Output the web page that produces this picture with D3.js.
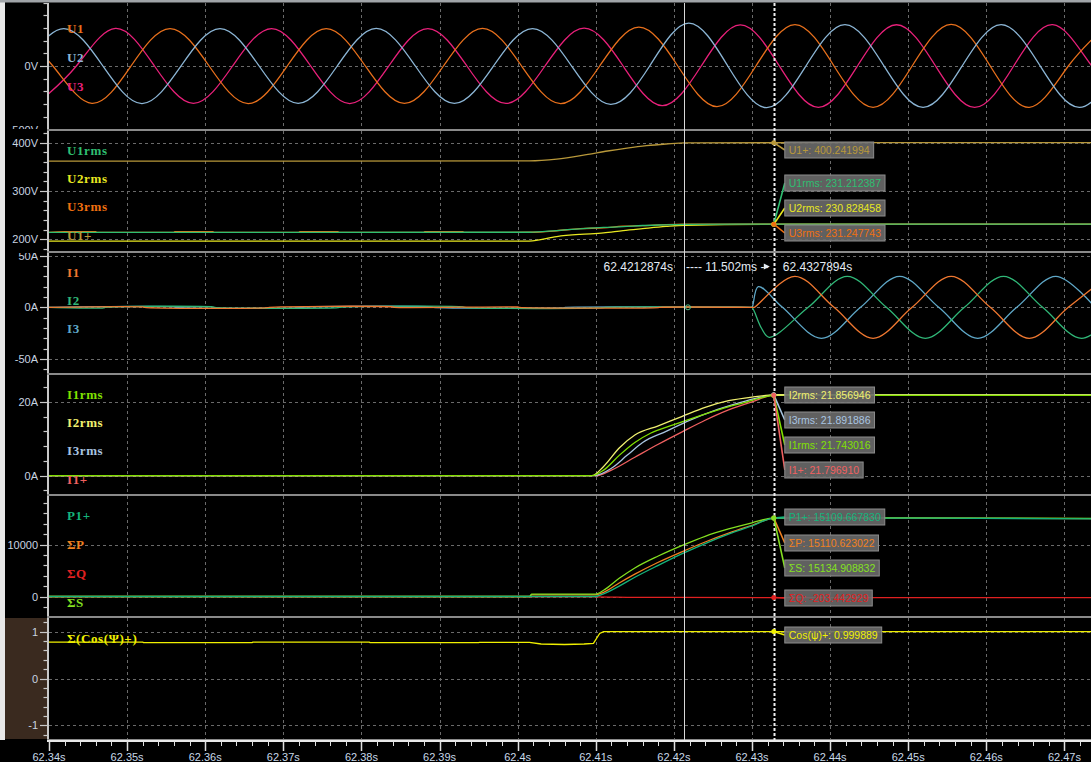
<!DOCTYPE html>
<html><head><meta charset="utf-8">
<script src="https://cdn.jsdelivr.net/npm/d3@7"></script>
<style>html,body{margin:0;padding:0;background:#000;overflow:hidden}</style>
</head><body><svg id="c" width="1091" height="762"></svg>
<script>
// ---------------- DATA ----------------
const timeTicks = [62.34,62.35,62.36,62.37,62.38,62.39,62.40,62.41,62.42,62.43,62.44,62.45,62.46,62.47];
const cursorTimes = [62.4212874, 62.4327894];
const deltaLabel = "11.502ms";

// phase voltages (V): extrema / zero crossings
const u1 = [[62.3355,296],[62.3405,0],[62.3455,-294],[62.3505,0],[62.3555,295],[62.3605,0],[62.3655,-296],[62.3705,0],[62.3755,294],[62.3805,0],[62.3855,-295],[62.3905,0],[62.3955,296],[62.4005,0],[62.4055,-297],[62.4105,0],[62.4155,306],[62.4205,0],[62.4255,-320],[62.4305,0],[62.4355,326],[62.4405,0],[62.4455,-325],[62.4505,0],[62.4555,327],[62.4605,0],[62.4655,-325],[62.4705,0],[62.4755,326]];
const u2 = [[62.3369,0],[62.3419,295],[62.3469,0],[62.3519,-296],[62.3569,0],[62.3619,295],[62.3669,0],[62.3719,-294],[62.3769,0],[62.3819,296],[62.3869,0],[62.3919,-295],[62.3969,0],[62.4019,295],[62.4069,0],[62.4119,-302],[62.4169,0],[62.4219,338],[62.4269,0],[62.4319,-328],[62.4369,0],[62.4419,325],[62.4469,0],[62.4519,-326],[62.4569,0],[62.4619,325],[62.4669,0],[62.4719,-326],[62.4769,0]];
const u3 = [[62.3385,-295],[62.3435,0],[62.3485,296],[62.3535,0],[62.3585,-294],[62.3635,0],[62.3685,295],[62.3735,0],[62.3785,-296],[62.3835,0],[62.3885,295],[62.3935,0],[62.3985,-295],[62.4035,0],[62.4085,298],[62.4135,0],[62.4185,-312],[62.4235,0],[62.4285,324],[62.4335,0],[62.4385,-326],[62.4435,0],[62.4485,325],[62.4535,0],[62.4585,-326],[62.4635,0],[62.4685,325],[62.4735,0],[62.4785,-325]];

// rms voltages (V)
const u1plus = [[62.34,362],[62.4015,362.4],[62.405,366],[62.409,376],[62.4115,383],[62.4140,389],[62.4165,394],[62.419,397.5],[62.4214,400],[62.4734,400.24]];
const u1rms = [[62.34,214.3],[62.4015,214.4],[62.405,218],[62.408,221.5],[62.411,224.5],[62.4135,226],[62.416,228.4],[62.419,229.8],[62.4214,230.8],[62.4329,231.21],[62.4734,231.2]];
const u2rms = [[62.34,196],[62.4015,196.2],[62.405,205.5],[62.408,210],[62.411,213],[62.4135,218],[62.416,222],[62.419,226.5],[62.4214,229],[62.4329,230.83],[62.4734,230.8]];
const u3rms = [[62.34,214.3],[62.342,215.6],[62.346,215.6],[62.3461,214.3],[62.356,214.3],[62.3561,215.6],[62.361,215.6],[62.3611,214.3],[62.372,214.3],[62.3721,215.6],[62.377,215.6],[62.3771,214.3],[62.388,214.3],[62.3881,215.6],[62.393,215.6],[62.3931,214.3],[62.4015,214.4],[62.405,217.5],[62.408,222],[62.411,223.5],[62.4135,227],[62.416,228],[62.419,230.3],[62.4214,231],[62.4329,231.25],[62.4734,231.2]];

// phase currents (A): near zero before switch-on, then extrema / zero crossings
const i1 = [[62.34,0],[62.352,0.4],[62.3522,0],[62.368,-0.4],[62.3682,0],[62.384,0.4],[62.3842,0],[62.40,0.3],[62.4002,0],[62.418,-0.3],[62.4182,0],[62.4301,0],[62.4303,0],[62.4355,30],[62.4405,0],[62.4455,-30],[62.4505,0],[62.4555,30],[62.4605,0],[62.4655,-30],[62.4705,0],[62.4755,30]];
const i2 = [[62.34,0],[62.347,-0.5],[62.3472,0],[62.361,0.4],[62.3612,0],[62.377,-0.4],[62.3772,0],[62.393,0.5],[62.3932,0],[62.411,-0.4],[62.4112,0],[62.4298,0],[62.4300,0],[62.4312,-20],[62.4322,-29],[62.4372,0],[62.4422,30],[62.4472,0],[62.4522,-30],[62.4572,0],[62.4622,30],[62.4672,0],[62.4722,-30],[62.4772,0]];
const i3 = [[62.34,0],[62.356,0.4],[62.3562,0],[62.372,-0.4],[62.3722,0],[62.389,0.4],[62.3892,0],[62.406,-0.3],[62.4062,0],[62.4298,0],[62.4300,0],[62.4308,20],[62.4339,0],[62.4389,-30],[62.4439,0],[62.4489,30],[62.4539,0],[62.4589,-30],[62.4639,0],[62.4689,30],[62.4739,0]];

// rms currents (A)
const i1rms = [[62.34,0],[62.4095,0],[62.411,1.5],[62.413,5.5],[62.415,9],[62.417,11.5],[62.420,13.8],[62.423,16],[62.426,18],[62.429,19.8],[62.431,21],[62.4329,21.74],[62.4734,21.75]];
const i2rms = [[62.34,0],[62.4095,0],[62.411,2.5],[62.413,7.5],[62.415,11],[62.418,13.5],[62.421,16],[62.424,18.5],[62.427,20.3],[62.430,21.3],[62.4329,21.86],[62.4734,21.86]];
const i3rms = [[62.34,0],[62.4098,0],[62.412,2],[62.414,5.5],[62.416,9],[62.419,12],[62.422,15],[62.425,17.5],[62.428,19.5],[62.431,21.2],[62.4329,21.89],[62.4734,21.89]];
const i1plus = [[62.34,0],[62.4100,0],[62.412,1.5],[62.415,5],[62.418,8.5],[62.421,11.8],[62.424,15],[62.427,17.8],[62.430,20],[62.4329,21.8],[62.4734,21.8]];

// powers (W / var / VA)
const p1plus = [[62.34,0],[62.4099,0],[62.411,500],[62.413,2000],[62.415,3700],[62.418,6000],[62.421,8200],[62.424,10200],[62.427,12000],[62.430,13600],[62.4329,15110],[62.45,15100],[62.4734,14950]];
const sumP = [[62.34,0],[62.4015,0],[62.4018,300],[62.4099,300],[62.411,800],[62.413,2600],[62.415,4300],[62.418,6600],[62.421,8600],[62.424,10500],[62.427,12200],[62.430,13700],[62.4329,15110],[62.45,15100],[62.4734,15000]];
const sumQ = [[62.34,-60],[62.36,-40],[62.38,-60],[62.40,-50],[62.41,-60],[62.415,-150],[62.4329,-203],[62.45,-210],[62.4734,-200]];
const sumS = [[62.34,0],[62.4015,0],[62.4018,450],[62.4099,450],[62.411,1200],[62.413,3500],[62.415,5500],[62.418,7800],[62.421,9800],[62.424,11600],[62.427,13000],[62.430,14200],[62.4329,15135],[62.45,15130],[62.4734,15050]];

// power factor
const cosPhi = [[62.34,0.775],[62.352,0.775],[62.3521,0.765],[62.366,0.765],[62.3661,0.775],[62.381,0.775],[62.3811,0.765],[62.395,0.765],[62.3951,0.77],[62.4015,0.77],[62.403,0.735],[62.406,0.725],[62.4085,0.735],[62.4097,0.75],[62.4105,0.96],[62.411,1.0],[62.4734,0.9999]];

// cursor readouts
const readU = [["U1+",400.241994],["U1rms",231.212387],["U2rms",230.828458],["U3rms",231.247743]];
const readI = [["I2rms",21.856946],["I3rms",21.891886],["I1rms",21.743016],["I1+",21.796910]];
const readP = [["P1+",15109.667830],["ΣP",15110.623022],["ΣS",15134.908832],["ΣQ",-203.442929]];
const readC = [["Cos(ψ)+",0.999889]];

// ---------------- DRAW ----------------
const W=1091,H=762;
const svg=d3.select("#c");
const x=d3.scaleLinear().domain([62.34,62.4734]).range([49,1091]);
svg.append("rect").attr("width",W).attr("height",H).attr("fill","#000");
svg.append("rect").attr("x",0).attr("y",0).attr("width",5).attr("height",740).attr("fill","#e8e8e8");
svg.append("rect").attr("x",0).attr("y",0).attr("width",W).attr("height",2.5).attr("fill","#a0a4a8");
svg.append("rect").attr("x",5).attr("y",618).attr("width",43).attr("height",121).attr("fill","#3a2a1f");

const C = {u1:"#e8701c",u2:"#8cb6d6",u3:"#e8207a",u1p:"#b8983a",u1r:"#2fbf71",u2r:"#e8e820",u3r:"#f07010",
  i1:"#f07830",i2:"#30b878",i3:"#5fa8c8",i1r:"#80e000",i2r:"#f0f070",i3r:"#a8c4e0",i1p:"#f06060",
  p1:"#14b47c",sp:"#f08020",sq:"#e02020",ss:"#84e020",cos:"#f0f000"};

const panels=[
 {top:3,bot:129,dom:[-500,500],step:100,lab:[-500,0],fmt:d=>d+"V",
  series:[[u3,C.u3],[u1,C.u1],[u2,C.u2]],curve:d3.curveNatural,
  legend:[["U1",C.u1,33],["U2",C.u2,62],["U3",C.u3,91]]},
 {top:131,bot:251,dom:[174.5,425.5],step:20,lab:[200,300,400],fmt:d=>d+"V",
  series:[[u1plus,C.u1p],[u2rms,C.u2r],[u3rms,C.u3r],[u1rms,C.u1r]],curve:d3.curveMonotoneX,
  legend:[["U1rms",C.u1r,155],["U2rms",C.u2r,183],["U3rms",C.u3r,211],["U1+",C.u1p,240]]},
 {top:253,bot:373,dom:[-64,53],step:10,lab:[-50,0,50],fmt:d=>d+"A",
  series:[[i3,C.i3],[i2,C.i2],[i1,C.i1]],curve:d3.curveCatmullRom,
  legend:[["I1",C.i1,277],["I2",C.i2,305],["I3",C.i3,333]]},
 {top:375,bot:494,dom:[-5.1,27.4],step:4,lab:[0,20],fmt:d=>d+"A",
  series:[[i1plus,C.i1p],[i3rms,C.i3r],[i2rms,C.i2r],[i1rms,C.i1r]],curve:d3.curveMonotoneX,
  legend:[["I1rms",C.i1r,399],["I2rms",C.i2r,427],["I3rms",C.i3r,455],["I1+",C.i1p,484]]},
 {top:496,bot:616,dom:[-3850,19450],step:2000,lab:[0,10000],fmt:d=>""+d,
  series:[[sumQ,C.sq],[sumP,C.sp],[sumS,C.ss],[p1plus,C.p1]],curve:d3.curveMonotoneX,
  legend:[["P1+",C.p1,520],["ΣP",C.sp,549],["ΣQ",C.sq,578],["ΣS",C.ss,607]]},
 {top:618,bot:739,dom:[-1.3,1.3],step:0.2,lab:[-1,0,1],fmt:d=>""+d,
  series:[[cosPhi,C.cos]],curve:d3.curveLinear,
  legend:[["Σ(Cos(Ψ)+)",C.cos,643]]}
];

const defs=svg.append("defs");
panels.forEach((p,pi)=>{
  const y=d3.scaleLinear().domain(p.dom).range([p.bot+0.5,p.top-0.5]);
  p.y=y;
  defs.append("clipPath").attr("id","cp"+pi).append("rect").attr("x",0).attr("y",p.top).attr("width",W).attr("height",p.bot-p.top);
  defs.append("clipPath").attr("id","cq"+pi).append("rect").attr("x",49).attr("y",p.top).attr("width",W-49).attr("height",p.bot-p.top);
  const g=svg.append("g").attr("clip-path",`url(#cp${pi})`);
  g.selectAll(".vg").data(timeTicks.slice(1)).join("line")
    .attr("x1",d=>Math.round(x(d))+0.5).attr("x2",d=>Math.round(x(d))+0.5).attr("y1",p.top).attr("y2",p.bot)
    .attr("stroke","#6a6a6a").attr("stroke-dasharray","3,3");
  g.selectAll(".hg").data(p.lab).join("line")
    .attr("x1",49).attr("x2",W).attr("y1",d=>Math.round(y(d))+0.5).attr("y2",d=>Math.round(y(d))+0.5)
    .attr("stroke","#6a6a6a").attr("stroke-dasharray","3,3");
  const n0=Math.ceil(p.dom[0]/p.step-1e-9), n1=Math.floor(p.dom[1]/p.step+1e-9);
  const tv=d3.range(n0,n1+1).map(k=>+(k*p.step).toFixed(6));
  g.selectAll(".tk").data(tv).join("line")
    .attr("x1",d=>p.lab.includes(d)?40:43.5).attr("x2",48).attr("y1",d=>Math.round(y(d))+0.5).attr("y2",d=>Math.round(y(d))+0.5)
    .attr("stroke","#c8c8c8").attr("stroke-width",1.2);
  g.selectAll(".tl").data(p.lab).join("text")
    .attr("x",38).attr("y",d=>y(d)+4).attr("text-anchor","end")
    .attr("font-family","Liberation Sans, Arial, sans-serif").attr("font-size",11)
    .attr("fill","#c8d4e0").text(p.fmt);
  g.append("line").attr("x1",48).attr("x2",48).attr("y1",p.top).attr("y2",p.bot).attr("stroke","#c8c8c8").attr("stroke-width",2);
  const gl=svg.append("g").attr("clip-path",`url(#cq${pi})`);
  p.series.forEach(([pts,col])=>{
    gl.append("path").datum(pts).attr("fill","none").attr("stroke",col).attr("stroke-width",1.3)
      .attr("d",d3.line().x(d=>x(d[0])).y(d=>y(d[1])).curve(p.curve));
  });
  gl.selectAll(".lg").data(p.legend).join("text")
    .attr("x",67).attr("y",d=>d[2]).attr("fill",d=>d[1])
    .attr("font-family","Liberation Serif, serif").attr("font-weight","bold").attr("font-size",13)
    .attr("letter-spacing",0.6).text(d=>d[0]);
  svg.append("rect").attr("x",47).attr("y",p.bot).attr("width",W-47).attr("height",2).attr("fill","#8a8a8a");
});

// cursors
const cx0=x(cursorTimes[0]), cx1=x(cursorTimes[1]);
svg.append("line").attr("x1",Math.round(cx0)+0.5).attr("x2",Math.round(cx0)+0.5).attr("y1",3).attr("y2",741).attr("stroke","#d8d8d8").attr("stroke-width",1);
svg.append("line").attr("x1",Math.round(cx1)+0.5).attr("x2",Math.round(cx1)+0.5).attr("y1",3).attr("y2",741).attr("stroke","#f0f0f0").attr("stroke-width",2).attr("stroke-dasharray","3,2");

// cursor header
const hy=271, hf="Liberation Sans, Arial, sans-serif";
svg.append("text").attr("x",cx0-11).attr("y",hy).attr("text-anchor","end").attr("font-family",hf).attr("font-size",12).attr("fill","#e4ecf4").text(cursorTimes[0].toFixed(7)+"s");
svg.append("text").attr("x",cx0+2).attr("y",hy).attr("font-family",hf).attr("font-size",12).attr("fill","#e4ecf4").text("---- "+deltaLabel+" --");
svg.append("path").attr("d",`M${cx1-10},${hy-7.5} L${cx1-4},${hy-4.5} L${cx1-10},${hy-1.5} Z`).attr("fill","#e4ecf4");
svg.append("text").attr("x",cx1+9).attr("y",hy).attr("font-family",hf).attr("font-size",12).attr("fill","#e4ecf4").text(cursorTimes[1].toFixed(7)+"s");
svg.append("circle").attr("cx",cx0+4).attr("cy",panels[2].y(0)).attr("r",2.5).attr("fill","none").attr("stroke","#4fc08a");

// tooltips
function tips(items, cols, ptY, boxTops){
  const bx=cx1+11;
  items.forEach((it,k)=>{
    const txt=it[0]+": "+it[1].toFixed(6);
    const t0=boxTops[k];
    const ty=ptY[k];
    svg.append("line").attr("x1",cx1).attr("y1",ty).attr("x2",bx).attr("y2",t0+8).attr("stroke",cols[k]).attr("stroke-width",1.6);
    svg.append("circle").attr("cx",cx1).attr("cy",ty).attr("r",2.5).attr("fill",cols[k]);
    const tx=svg.append("text").attr("x",bx+4).attr("y",t0+11.5).attr("font-family",hf).attr("font-size",10.5).attr("fill",cols[k]).text(txt);
    const w=tx.node().getComputedTextLength();
    svg.insert("rect",()=>tx.node()).attr("x",bx).attr("y",t0).attr("width",w+8).attr("height",16)
      .attr("fill","#6a6a6a").attr("fill-opacity",0.9).attr("stroke","#8c8c8c");
  });
}
const p2=panels[1],p4=panels[3],p5=panels[4],p6=panels[5];
tips(readU, [C.u1p,C.u1r,C.u2r,C.u3r], readU.map(d=>p2.y(d[1])), [142,175,200,225]);
tips(readI, [C.i2r,C.i3r,C.i1r,C.i1p], readI.map(d=>p4.y(d[1])), [387,412,437,462]);
tips(readP, [C.p1,C.sp,C.ss,C.sq], readP.map(d=>p5.y(d[1])), [509,535,560,590]);
tips(readC, [C.cos], readC.map(d=>p6.y(d[1])), [627]);

// x axis
const axY=740;
const minor=d3.range(0,67).map(k=>62.34+k*0.002);
svg.append("line").attr("x1",47).attr("x2",W).attr("y1",axY+1).attr("y2",axY+1).attr("stroke","#e8e8e8").attr("stroke-width",2);
svg.selectAll(".mt").data(minor).join("line")
  .attr("x1",d=>Math.round(x(d))+0.5).attr("x2",d=>Math.round(x(d))+0.5).attr("y1",axY+1).attr("y2",axY+6)
  .attr("stroke","#e0e0e0");
svg.selectAll(".Mt").data(timeTicks).join("line")
  .attr("x1",d=>Math.round(x(d))+0.5).attr("x2",d=>Math.round(x(d))+0.5).attr("y1",axY+1).attr("y2",axY+11)
  .attr("stroke","#e0e0e0").attr("stroke-width",1.5);
svg.selectAll(".Ml").data(timeTicks).join("text")
  .attr("x",d=>x(d)).attr("y",axY+21).attr("text-anchor","middle")
  .attr("font-family",hf).attr("font-size",11).attr("fill","#c8d8e8")
  .text(d=>(+d.toFixed(2))+"s");
</script></body></html>
